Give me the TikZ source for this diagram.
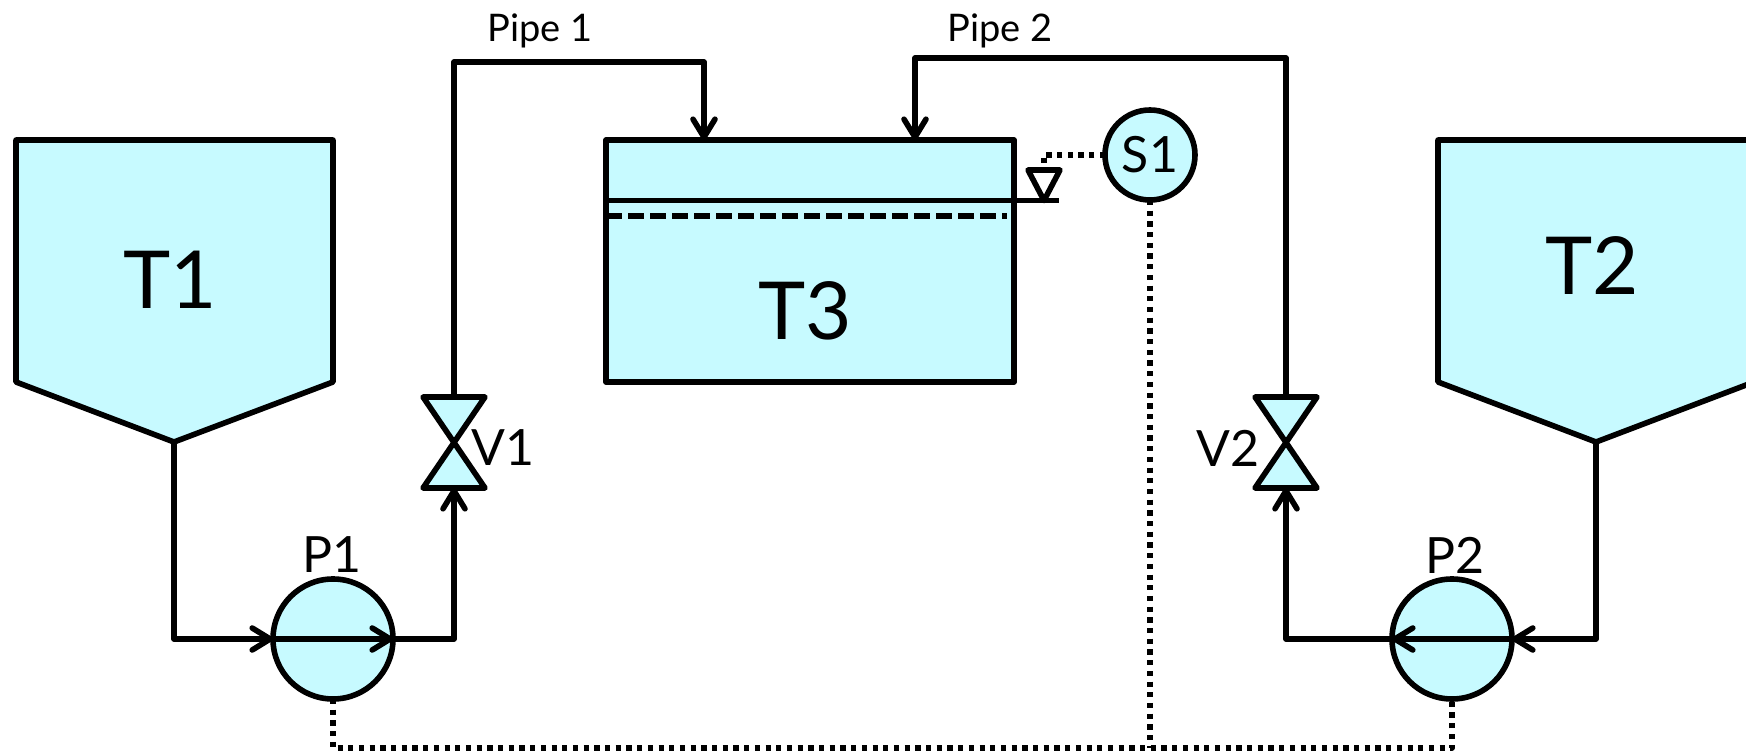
\documentclass[tikz,border=0pt]{standalone}
\usepackage{fontspec}
\setmainfont{Lato}
\usetikzlibrary{arrows.meta}
\definecolor{tankblue}{HTML}{C7FAFF}

\begin{document}
\begin{tikzpicture}[x=0.5pt,y=-0.5pt,line join=round]
\tikzstyle{pipe}=[draw,line width=2.8pt,-{Straight Barb[length=9pt,width=11pt,round]}]
\tikzstyle{signal}=[draw,line width=2.8pt,dash pattern=on 2.6pt off 2.75pt]
\tikzstyle{tank}=[draw,line width=2.8pt,fill=tankblue]
\tikzstyle{pump}=[tank,circle,inner sep=0pt,outer sep=0pt,minimum size=60pt]
\tikzstyle{biglabel}=[font=\fontsize{40}{40}\selectfont,inner sep=0pt]
\tikzstyle{smalllabel}=[font=\fontsize{25}{25}\selectfont,inner sep=0pt]
\tikzstyle{pipelabel}=[font=\fontsize{19}{19}\selectfont,inner sep=0pt,anchor=base]
\useasboundingbox (0,0) rectangle (1746,754);
\clip (0,0) rectangle (1746,754);
% tanks
\draw[tank] (16,140) -- (333,140) -- (333,382) -- (174,442) -- (16,382) -- cycle;
\draw[tank] (1438,140) -- (1754,140) -- (1754,382) -- (1596,442) -- (1438,382) -- cycle;
\node[tank,inner sep=0pt,outer sep=0pt,minimum width=204pt,minimum height=121pt] (t3) at (810,261) {};
\coordinate (t1tip) at (174,442);
\coordinate (t2tip) at (1596,442);
\node[biglabel] (t1label) at (170,280) {T1};
\node[biglabel] (t2label) at (1592,266) {T2};
\node[biglabel] (t3label) at (805,311) {T3};
% level in T3
\coordinate (levelL) at (606,200.5);
\coordinate (levelR) at (1059,200.5);
\coordinate (levelM) at (1044,200.5);
\coordinate (setL) at (606,216);
\coordinate (setR) at (1007,216);
\draw[line width=2.8pt] (levelL) -- (levelR);
\draw[line width=2.8pt,dash pattern=on 8pt off 3pt] (setL) -- (setR);
\draw[line width=2.8pt] (levelM) -- (1028,170) -- (1060,170) -- cycle;
\coordinate (levelT) at (1044,170);
% sensor and pumps
\node[pump,minimum size=45pt,font=\fontsize{25}{25}\selectfont] (s1) at (1150,155) {S1};
\node[pump] (p1) at (333,639) {};
\node[pump] (p2) at (1452,639) {};
\node[smalllabel] (p1label) at (332,555) {P1};
\node[smalllabel] (p2label) at (1455,555) {P2};
% valves
\coordinate (v1) at (454,442);
\coordinate (v2) at (1286,442);
\coordinate (v1top) at (454,397);
\coordinate (v1bot) at (454,488);
\coordinate (v2top) at (1286,397);
\coordinate (v2bot) at (1286,488);
\draw[tank] (423,397) -- (485,397) -- (423,488) -- (485,488) -- cycle;
\draw[tank] (1255,397) -- (1317,397) -- (1255,488) -- (1317,488) -- cycle;
\node[smalllabel] (v1label) at (503,448) {V1};
\node[smalllabel] (v2label) at (1228,448) {V2};
% pipes
\draw[pipe] (t1tip) |- (p1.west);
\draw[pipe] (p1.west) -- (p1.east);
\draw[pipe] (p1.east) -| (v1bot);
\draw[pipe] (t2tip) |- (p2.east);
\draw[pipe] (p2.east) -- (p2.west);
\draw[pipe] (p2.west) -| (v2bot);
\coordinate (pipeA) at (454,62);
\coordinate (pipeB) at (704,62);
\coordinate (pipeC) at (1286,58);
\coordinate (pipeD) at (915,58);
\draw[pipe] (v1top) -- (pipeA) -- (pipeB) -- (pipeB |- t3.north);
\draw[pipe] (v2top) -- (pipeC) -- (pipeD) -- (pipeD |- t3.north);
\node[pipelabel] (pipe1) at (540,42) {Pipe 1};
\node[pipelabel] (pipe2) at (1000,42) {Pipe 2};
% signal lines
\coordinate (busL) at (333,748);
\coordinate (busR) at (1452,748);
\coordinate (busM) at (1150,748);
\draw[signal] (s1.west) -| (levelT);
\draw[signal] (p1.south) -- (busL) -- (busR) -- (p2.south);
\draw[signal] (s1.south) -- (busM);
\end{tikzpicture}
\end{document}
